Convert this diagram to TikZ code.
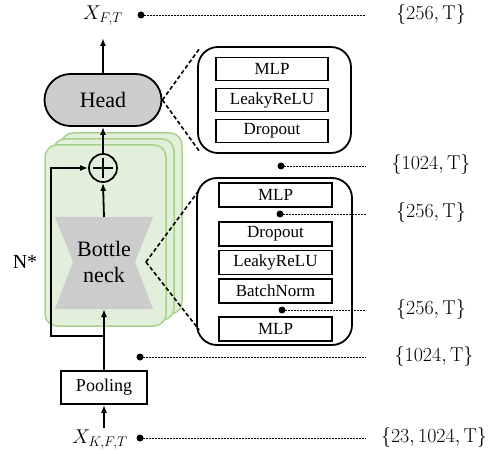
\RequirePackage{fix-cm}
\documentclass[tikz,border=0pt]{standalone}
\usepackage[no-math]{fontspec}
\setmainfont{Liberation Serif}
\usetikzlibrary{arrows.meta}
\definecolor{stackfill}{HTML}{E2EFDA}
\definecolor{stackline}{HTML}{A9D18E}
\tikzset{flow/.style={-{Latex[length=8pt,width=6pt]}, line width=1.8pt}}
\tikzset{zoomline/.style={dash pattern=on 4pt off 2.5pt, line width=1.6pt}}
\tikzset{guide/.style={dash pattern=on 2pt off 1pt, line width=0.7pt}}
\tikzset{layer/.style={draw, line width=1.8pt, minimum width=#1, minimum height=23pt, inner sep=0pt, font=\fontsize{17}{17}\selectfont}}
\tikzset{layer/.default=112pt}
\tikzset{panel/.style={draw, line width=1.8pt, rounded corners=20pt, inner sep=0pt}}
\tikzset{dim/.style={font=\fontsize{20}{20}\selectfont}}
\tikzset{sheet/.style={fill=stackfill, draw=stackline, line width=1.5pt, rounded corners=12pt}}

\begin{document}
\begin{tikzpicture}[x=1pt, y=-1pt]
    \useasboundingbox (0,0) rectangle (492,454);
    \foreach \k in {2,1,0} {
        \draw[sheet] ({45+8*\k},{145-6*\k}) rectangle ({166+8*\k},{326-6*\k});
    }
    \node[draw, fill=gray!40, line width=1.8pt, rounded corners=26pt, minimum width=117pt, minimum height=52pt, font=\fontsize{22}{22}\selectfont] (head) at (103,100) {Head};
    \node[font=\fontsize{20}{20}\selectfont] (xout) at (103,16) {$X_{F,T}$};
    \coordinate (outtip) at (103,38);
    \node[draw, circle, line width=1.7pt, minimum size=28pt, inner sep=0pt] (plus) at (103,168) {};
    \draw[line width=1.7pt] ([xshift=5pt]plus.west) -- ([xshift=-5pt]plus.east);
    \draw[line width=1.7pt] ([yshift=-5pt]plus.north) -- ([yshift=5pt]plus.south);
    \fill[gray!40] (55,217) -- (153,217) -- (135,262) -- (153,309) -- (55,309) -- (73,262) -- cycle;
    \node[align=center, font=\fontsize{22}{26}\selectfont] (neck) at (104,262) {Bottle\\neck};
    \coordinate (bntop) at (104,217);
    \coordinate (bnbot) at (104,309);
    \coordinate (bntip) at (146,262);
    \node[font=\fontsize{20}{20}\selectfont] (rep) at (25,262) {N*};
    \node[draw, line width=1.8pt, minimum width=86pt, minimum height=33pt, font=\fontsize{18}{18}\selectfont] (pool) at (104,387.5) {Pooling};
    \node[font=\fontsize{20}{20}\selectfont] (xin) at (100,440) {$X_{K,F,T}$};
    \coordinate (intail) at (104,428);
    \coordinate (split) at (104,336);
    \coordinate (skipx) at (51,0);
    % main path
    \draw[flow] (intail) -- (pool.south);
    \draw[flow] (pool.north) -- (bnbot);
    \draw[flow] (split) -- (split -| skipx) |- (plus.west);
    \draw[flow] (bntop) -- (plus.south);
    \draw[flow] (plus.north) -- (head.south);
    \draw[flow] (head.north) -- (outtip);
    % head panel
    \node[panel, minimum width=153pt, minimum height=106pt] (headpanel) at (274.5,100) {};
    \node[layer] (hmlp) at (272,69) {MLP};
    \node[layer] (hact) at (272,100) {LeakyReLU};
    \node[layer] (hdrop) at (272,131) {Dropout};
    \draw[zoomline] (head.east) -- ([xshift=2pt, yshift=-3pt]headpanel.north west);
    \draw[zoomline] (head.east) -- ([xshift=2pt, yshift=3pt]headpanel.south west);
    % bottleneck panel
    \node[panel, minimum width=155pt, minimum height=167pt] (neckpanel) at (274.5,261.5) {};
    \node[layer=113pt, minimum height=24pt] (nmlpa) at (275.5,195) {MLP};
    \node[layer=113pt, minimum height=24pt] (ndrop) at (275.5,234) {Dropout};
    \node[layer=113pt, minimum height=24pt] (nact) at (275.5,262.5) {LeakyReLU};
    \node[layer=113pt, minimum height=24pt] (nnorm) at (275.5,291) {BatchNorm};
    \node[layer=113pt, minimum height=24pt] (nmlpb) at (275.5,329) {MLP};
    \draw[zoomline] (bntip) -- ([xshift=3pt, yshift=-13pt]neckpanel.north west);
    \draw[zoomline] (bntip) -- ([xshift=3pt, yshift=16pt]neckpanel.south west);
    % shapes
    \coordinate (rim) at (366,0);
    \foreach \d/\x/\y in {1/141/15, 2/281/166, 3/280/214, 4/282/310, 5/140/357, 6/140/438} {
        \coordinate (dot\d) at (\x,\y);
        \fill (dot\d) circle [radius=3.5pt];
        \draw[guide] (dot\d) -- (dot\d -| rim);
    }
    \node[dim] (dim1) at (431,15) {$\{256, \mathrm{T}\}$};
    \node[dim] (dim2) at (431,165) {$\{1024, \mathrm{T}\}$};
    \node[dim] (dim3) at (431,213) {$\{256, \mathrm{T}\}$};
    \node[dim] (dim4) at (431,309) {$\{256, \mathrm{T}\}$};
    \node[dim] (dim5) at (434,356) {$\{1024, \mathrm{T}\}$};
    \node[dim] (dim6) at (434,437) {$\{23, 1024, \mathrm{T}\}$};
\end{tikzpicture}
\end{document}
